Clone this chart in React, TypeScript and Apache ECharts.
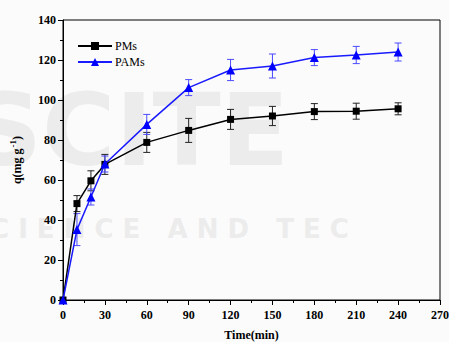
import React, { useEffect, useRef } from "react";
import * as echarts from "echarts";

const times = [0, 10, 20, 30, 60, 90, 120, 150, 180, 210, 240];
const pmsMean = [0, 48.2, 59.6, 67.8, 78.8, 84.8, 90.3, 92, 94.2, 94.4, 95.6];
const pmsErr = [0, 4, 5, 5, 5, 6, 5, 4.8, 4, 4, 3];
const pamsMean = [0, 35.2, 51.5, 68, 87.8, 106.2, 115, 117, 121.2, 122.5, 124];
const pamsErr = [0, 8, 4, 4, 5, 4, 5.3, 6, 4, 4.3, 4.5];
const xTicks = [0, 30, 60, 90, 120, 150, 180, 210, 240, 270];
const yTicks = [0, 20, 40, 60, 80, 100, 120, 140];

const font = "'Liberation Serif', 'Times New Roman', serif";

function errSeries(name: string, mean: number[], err: number[], color: string) {
  return {
    name: name + "_err",
    type: "custom",
    z: 1,
    silent: true,
    data: times.map((t, i) => [t, mean[i] - err[i], mean[i] + err[i]]).filter((d, i) => err[i] > 0),
    renderItem: (params: any, api: any) => {
      const x = api.value(0);
      const lo = api.coord([x, api.value(1)]);
      const hi = api.coord([x, api.value(2)]);
      const w = 3.5;
      const style = { stroke: color, lineWidth: 1 };
      return {
        type: "group",
        children: [
          { type: "line", shape: { x1: lo[0], y1: lo[1], x2: hi[0], y2: hi[1] }, style },
          { type: "line", shape: { x1: lo[0] - w, y1: lo[1], x2: lo[0] + w, y2: lo[1] }, style },
          { type: "line", shape: { x1: hi[0] - w, y1: hi[1], x2: hi[0] + w, y2: hi[1] }, style },
        ],
      };
    },
  };
}

export default function App() {
  const ref = useRef<HTMLDivElement>(null);
  useEffect(() => {
    if (!ref.current) return;
    const chart = echarts.init(ref.current, undefined, { renderer: "svg" });
    const axisLabel = { color: "#000", fontFamily: font, fontWeight: "bold", fontSize: 12 };
    chart.setOption({
      animation: false,
      backgroundColor: "#fbfbfb",
      graphic: [
        {
          type: "text",
          left: -30,
          top: 80,
          z: -10,
          silent: true,
          style: { text: "SCITE", fill: "#ececec", font: "bold 100px 'DejaVu Sans', sans-serif" },
        },
        {
          type: "text",
          left: -10,
          top: 216,
          z: -10,
          silent: true,
          style: { text: "C I E N C E   A N D   T E C", fill: "#ececec", font: "bold 26px 'DejaVu Sans', sans-serif" },
        },
      ],
      grid: {
        left: 63, right: 9, top: 20, bottom: 42,
        outerBoundsMode: "none",
        containLabel: false,
        show: true, borderColor: "#000", borderWidth: 1, backgroundColor: "transparent",
      },
      legend: {
        left: 72,
        top: 35,
        orient: "vertical",
        itemGap: 4,
        itemWidth: 34,
        itemHeight: 10,
        data: ["PMs", "PAMs"],
        textStyle: { fontFamily: font, fontSize: 12, color: "#000", padding: [0, 0, 0, -2] },
      },
      xAxis: {
        type: "value",
        min: 0,
        max: 270,
        interval: 30,
        name: "Time(min)",
        nameLocation: "middle",
        nameGap: 29,
        nameTextStyle: { ...axisLabel, fontSize: 12 },
        axisLine: { show: true, lineStyle: { color: "#000", width: 1 } },
        axisTick: { show: true, length: 5, lineStyle: { color: "#000" } },
        minorTick: { show: true, splitNumber: 2, length: 3, lineStyle: { color: "#000" } },
        splitLine: { show: false },
        axisLabel: { ...axisLabel, margin: 9, formatter: (v: number) => (xTicks.includes(v) ? String(v) : "") },
      },
      yAxis: {
        type: "value",
        min: 0,
        max: 140,
        interval: 20,
        name: "{a|q(mg g}{s|-1}{a|)}",
        nameLocation: "middle",
        nameGap: 38,
        nameTextStyle: {
          rich: {
            a: { fontFamily: font, fontWeight: "bold", fontSize: 12, color: "#000" },
            s: { fontFamily: font, fontWeight: "bold", fontSize: 9, color: "#000", verticalAlign: "top", padding: [0, 0, 8, 1] },
          },
        },
        axisLine: { show: true, lineStyle: { color: "#000", width: 1 } },
        axisTick: { show: true, length: 5, lineStyle: { color: "#000" } },
        minorTick: { show: true, splitNumber: 2, length: 3, lineStyle: { color: "#000" } },
        splitLine: { show: false },
        axisLabel: { ...axisLabel, margin: 7, formatter: (v: number) => (yTicks.includes(v) ? String(v) : "") },
      },
      series: [
        errSeries("PMs", pmsMean, pmsErr, "#222"),
        errSeries("PAMs", pamsMean, pamsErr, "#4a4aff"),
        {
          name: "PMs",
          type: "line",
          z: 3,
          data: times.map((t, i) => [t, pmsMean[i]]),
          symbol: "rect",
          symbolSize: 7,
          itemStyle: { color: "#000" },
          lineStyle: { color: "#000", width: 1.5 },
        },
        {
          name: "PAMs",
          type: "line",
          z: 4,
          data: times.map((t, i) => [t, pamsMean[i]]),
          symbol: "triangle",
          symbolSize: 9,
          itemStyle: { color: "#0000ff" },
          lineStyle: { color: "#1a1aff", width: 1.5 },
        },
      ],
    });
    return () => chart.dispose();
  }, []);
  return <div ref={ref} style={{ position: "fixed", left: 0, top: 0, width: 449, height: 342 }} />;
}
